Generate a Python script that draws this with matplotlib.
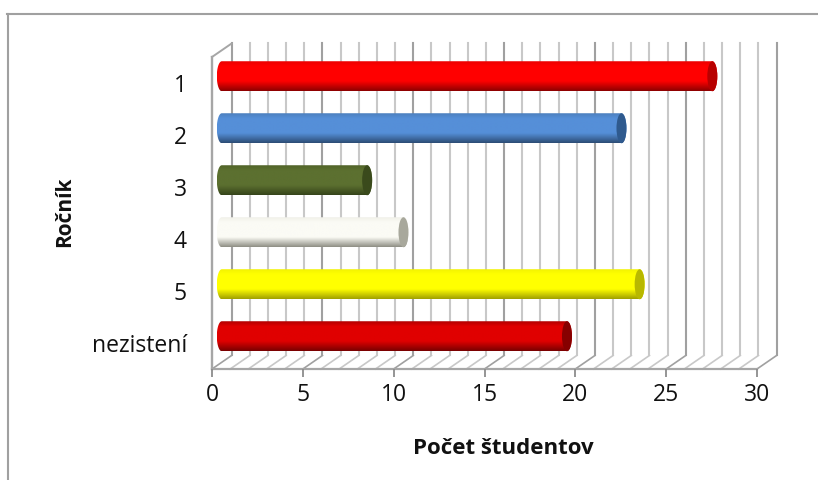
import numpy as np
import matplotlib
matplotlib.use('Agg')
from matplotlib import pyplot as plt
from matplotlib.colors import LinearSegmentedColormap
from matplotlib.lines import Line2D
from matplotlib.patches import Ellipse, Polygon

plt.rcParams['font.family'] = ['Open Sans', 'DejaVu Sans']

categories = ['1', '2', '3', '4', '5', 'nezistení']
values = [27, 22, 8, 10, 23, 19]
x_ticks = [0, 5, 10, 15, 20, 25, 30]

# top edge, highlight, bottom edge, end cap
bar_colors = [
    ['#e80000', '#ff0000', '#8c0000', '#b80000'],
    ['#4a7cb8', '#558fd8', '#2c4c74', '#2f5a8e'],
    ['#4e6126', '#5c7030', '#35441a', '#3a4a1c'],
    ['#eeeee6', '#fbfbf5', '#8e8e84', '#a8a89c'],
    ['#f0f000', '#ffff00', '#a0a000', '#b8b800'],
    ['#a80000', '#e00000', '#780000', '#860000'],
]

WIDTH, HEIGHT = 818, 480
LEFT, RIGHT, TOP, BOTTOM = 212, 757, 57, 369

depth_x = 1.08
depth_y = 0.26
bar_h = 0.577
cap_w = 0.275
grid_c = '#c8c8c8'
major_c = '#a0a0a0'

fig = plt.figure(figsize=(WIDTH / 100, HEIGHT / 100), dpi=100)
fig.patch.set_facecolor('white')

# chart frame, only top and left are inside the picture
fig.add_artist(Line2D([7 / WIDTH, 1], [1 - 14 / HEIGHT, 1 - 14 / HEIGHT], transform=fig.transFigure, color='#a0a0a0', lw=1.5))
fig.add_artist(Line2D([8 / WIDTH, 8 / WIDTH], [0, 1 - 14 / HEIGHT], transform=fig.transFigure, color='#a0a0a0', lw=1.5))

ax = fig.add_axes([LEFT / WIDTH, 1 - BOTTOM / HEIGHT, (RIGHT - LEFT) / WIDTH, (BOTTOM - TOP) / HEIGHT])
ax.set_facecolor('none')
for s in ax.spines.values():
    s.set_visible(False)

n = len(categories)

# back wall and floor grid
for x in range(0, 31):
    c = major_c if x % 5 == 0 else grid_c
    ax.plot([x + depth_x, x + depth_x], [n - depth_y, -depth_y], color=c, lw=1.5, clip_on=False, zorder=1)
    ax.plot([x, x + depth_x], [n, n - depth_y], color=c, lw=1.2, clip_on=False, zorder=1)

# side wall and front floor edge
ax.plot([0, 0], [0, n], color='#a6a6a6', lw=1.7, clip_on=False, zorder=1)
ax.plot([0, depth_x], [0, -depth_y], color='#a6a6a6', lw=1.4, clip_on=False, zorder=1)
ax.plot([0, 30], [n, n], color='#a6a6a6', lw=1.6, clip_on=False, zorder=1)

# cylinders
for i, (val, cols) in enumerate(zip(values, bar_colors)):
    x0 = depth_x / 2
    x1 = val + depth_x / 2
    yc = i + 0.5 - depth_y / 2
    y0, y1 = yc - bar_h / 2, yc + bar_h / 2
    cmap = LinearSegmentedColormap.from_list('bar%d' % i, [(0, cols[0]), (0.2, cols[1]), (0.68, cols[1]), (1, cols[2])])

    # outline: bulging left end, straight sides, bulging right end
    a = np.linspace(np.pi / 2, 3 * np.pi / 2, 30)
    left_end = np.c_[x0 + cap_w * np.cos(a), yc + bar_h / 2 * np.sin(a)]
    b = np.linspace(-np.pi / 2, np.pi / 2, 30)
    right_end = np.c_[x1 + cap_w * np.cos(b), yc + bar_h / 2 * np.sin(b)]
    outline = Polygon(np.r_[left_end, right_end], closed=True, transform=ax.transData, facecolor='none', edgecolor='none')
    ax.add_patch(outline)

    im = ax.imshow(np.linspace(0, 1, 128).reshape(-1, 1), cmap=cmap, aspect='auto',
                   extent=(x0 - cap_w, x1 + cap_w, y1, y0), zorder=3, interpolation='bilinear')
    im.set_clip_path(outline)

    ax.add_patch(Ellipse((x1, yc), 2 * cap_w, bar_h, facecolor=cols[3], edgecolor='none', zorder=4, clip_on=False))

ax.set_xlim(0, 30)
ax.set_ylim(n, 0)

ax.set_xticks(x_ticks)
ax.set_yticks(np.arange(n) + 0.5)
ax.set_yticklabels(categories)
ax.tick_params(axis='x', length=6, width=1.3, color='#8c8c8c', pad=4, labelsize=16.5, labelcolor='#111111')
ax.tick_params(axis='y', length=0, pad=18, labelsize=16.5, labelcolor='#111111')

fig.text(65 / WIDTH, 1 - 212 / HEIGHT, 'Ročník', rotation=90, fontsize=15, fontweight='bold',
         ha='center', va='center', color='#111111')
fig.text(503 / WIDTH, 1 - 449 / HEIGHT, 'Počet študentov', fontsize=16, fontweight='bold',
         ha='center', va='center', color='#111111')

plt.savefig('out.png', dpi=100)
plt.close()
